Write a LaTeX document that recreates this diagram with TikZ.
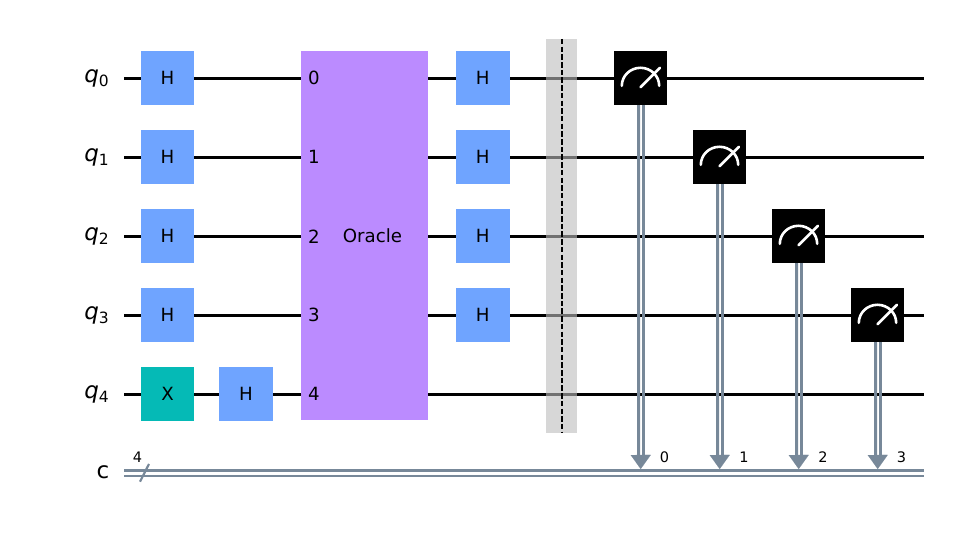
\documentclass[tikz,border=0pt]{standalone}
\usepackage{fontspec}
\setmainfont{DejaVu Sans}
\usetikzlibrary{arrows.meta}
\usetikzlibrary{backgrounds}
\definecolor{hblue}{HTML}{6FA4FF}
\definecolor{xteal}{HTML}{05BAB6}
\definecolor{oraclepurple}{HTML}{BB8BFF}
\definecolor{cgray}{HTML}{778899}
\definecolor{bargray}{HTML}{BDBDBD}
\newcommand{\qname}[1]{\textit{q}\raisebox{-4pt}{\fontsize{15.5}{15.5}\selectfont #1}}
\tikzset{
  gate/.style={shape=rectangle,minimum width=53.4pt,minimum height=54.2pt,inner sep=0pt,outer sep=0pt,font=\fontsize{18.2}{21}\selectfont},
  hgate/.style={gate,fill=hblue},
  xgate/.style={gate,fill=xteal},
  mgate/.style={gate,fill=black},
  qwire/.style={line width=3pt,black},
  cline/.style={line width=2.8pt,cgray},
  creg/.style={line width=2.2pt,cgray},
  carrow/.style={line width=0.01pt,cgray,-{Triangle[length=14pt,width=20pt]}},
  meter/.style={line width=2.6pt,white,line cap=round},
  qlabel/.style={inner sep=0pt,font=\fontsize{23}{26}\selectfont},
  small/.style={inner sep=0pt,font=\fontsize{14.5}{16}\selectfont},
  port/.style={inner sep=0pt,font=\fontsize{18.2}{21}\selectfont}
}
\begin{document}
\begin{tikzpicture}[x=1pt,y=1pt]
\useasboundingbox (0,0) rectangle (956,535);
\draw (96.5,456.7) node (q0) [qlabel] {\qname{0}};
\draw (96.5,377.7) node (q1) [qlabel] {\qname{1}};
\draw (96.5,298.7) node (q2) [qlabel] {\qname{2}};
\draw (96.5,219.7) node (q3) [qlabel] {\qname{3}};
\draw (96.5,140.7) node (q4) [qlabel] {\qname{4}};
\draw (103,63) node (c) [qlabel] {c};
\coordinate (q0in) at (124,456.7);
\coordinate (q1in) at (124,377.7);
\coordinate (q2in) at (124,298.7);
\coordinate (q3in) at (124,219.7);
\coordinate (q4in) at (124,140.7);
\coordinate (q0out) at (924,456.7);
\coordinate (q1out) at (924,377.7);
\coordinate (q2out) at (924,298.7);
\coordinate (q3out) at (924,219.7);
\coordinate (q4out) at (924,140.7);
\coordinate (cin) at (124,61.8);
\coordinate (cout) at (924,61.8);
\draw (167.5,456.7) node (h0) [hgate] {H};
\draw (167.5,377.7) node (h1) [hgate] {H};
\draw (167.5,298.7) node (h2) [hgate] {H};
\draw (167.5,219.7) node (h3) [hgate] {H};
\draw (167.5,140.7) node (x4) [xgate] {X};
\draw (246,140.7) node (h4) [hgate] {H};
\draw (364.5,299.5) node (oracle) [gate,minimum width=127pt,minimum height=369pt,fill=oraclepurple] {\hspace*{16pt}Oracle};
\draw (314,456.7) node (p0) [port] {0};
\draw (314,377.7) node (p1) [port] {1};
\draw (314,298.7) node (p2) [port] {2};
\draw (314,219.7) node (p3) [port] {3};
\draw (314,140.7) node (p4) [port] {4};
\draw (482.8,456.7) node (g0) [hgate] {H};
\draw (482.8,377.7) node (g1) [hgate] {H};
\draw (482.8,298.7) node (g2) [hgate] {H};
\draw (482.8,219.7) node (g3) [hgate] {H};
\draw (561.5,299) node (bar) [shape=rectangle,minimum width=31pt,minimum height=394pt,inner sep=0pt,outer sep=0pt,fill=bargray,fill opacity=0.6] {};
\draw [line width=1.05pt,dash pattern=on 5.5pt off 2.2pt] ([xshift=0.5pt]bar.north) -- ([xshift=0.5pt]bar.south);
\draw (640.5,456.7) node (m0) [mgate] {};
\draw (719.5,377.7) node (m1) [mgate] {};
\draw (798.5,298.7) node (m2) [mgate] {};
\draw (877.5,219.7) node (m3) [mgate] {};
\begin{scope}[on background layer]
\draw [qwire] (q0in) -- (h0.west);
\draw [qwire] (q1in) -- (h1.west);
\draw [qwire] (q2in) -- (h2.west);
\draw [qwire] (q3in) -- (h3.west);
\draw [qwire] (q4in) -- (x4.west);
\draw [qwire] (x4.east) -- (h4.west);
\draw [qwire] (h0.east) -- (h0.east -| oracle.west);
\draw [qwire] (h1.east) -- (h1.east -| oracle.west);
\draw [qwire] (h2.east) -- (h2.east -| oracle.west);
\draw [qwire] (h3.east) -- (h3.east -| oracle.west);
\draw [qwire] (h4.east) -- (h4.east -| oracle.west);
\draw [qwire] (g0.west -| oracle.east) -- (g0.west);
\draw [qwire] (g1.west -| oracle.east) -- (g1.west);
\draw [qwire] (g2.west -| oracle.east) -- (g2.west);
\draw [qwire] (g3.west -| oracle.east) -- (g3.west);
\draw [qwire] (g0.east) -- (m0.west);
\draw [qwire] (g1.east) -- (m1.west);
\draw [qwire] (g2.east) -- (m2.west);
\draw [qwire] (g3.east) -- (m3.west);
\draw [qwire] (m0.east) -- (q0out);
\draw [qwire] (m1.east) -- (q1out);
\draw [qwire] (m2.east) -- (q2out);
\draw [qwire] (m3.east) -- (q3out);
\draw [qwire] (q4out -| oracle.east) -- (q4out);
\end{scope}
\draw [creg] ([yshift=2.7pt]cin) -- ([yshift=2.7pt]cout);
\draw [creg] ([yshift=-2.7pt]cin) -- ([yshift=-2.7pt]cout);
\draw [creg] (140,53.3) -- (149,71);
\draw (137.5,78) node (cn) [small] {4};
\coordinate (t0) at (640.7,66);
\coordinate (t1) at (719.7,66);
\coordinate (t2) at (798.7,66);
\coordinate (t3) at (877.7,66);
\draw [cline] ([xshift=-2.3pt]m0.south) -- ([xshift=-2.5pt,yshift=8pt]t0);
\draw [cline] ([xshift=2.7pt]m0.south) -- ([xshift=2.5pt,yshift=8pt]t0);
\draw [carrow] (m0.south) -- (t0);
\draw [cline] ([xshift=-2.3pt]m1.south) -- ([xshift=-2.5pt,yshift=8pt]t1);
\draw [cline] ([xshift=2.7pt]m1.south) -- ([xshift=2.5pt,yshift=8pt]t1);
\draw [carrow] (m1.south) -- (t1);
\draw [cline] ([xshift=-2.3pt]m2.south) -- ([xshift=-2.5pt,yshift=8pt]t2);
\draw [cline] ([xshift=2.7pt]m2.south) -- ([xshift=2.5pt,yshift=8pt]t2);
\draw [carrow] (m2.south) -- (t2);
\draw [cline] ([xshift=-2.3pt]m3.south) -- ([xshift=-2.5pt,yshift=8pt]t3);
\draw [cline] ([xshift=2.7pt]m3.south) -- ([xshift=2.5pt,yshift=8pt]t3);
\draw [carrow] (m3.south) -- (t3);
\draw (664.5,78) node (c0) [small] {0};
\draw (744,78) node (c1) [small] {1};
\draw (823,78) node (c2) [small] {2};
\draw (901.5,78) node (c3) [small] {3};
\draw [meter] (m0.center) ++(-18.7,-7.5) arc [start angle=180,end angle=0,x radius=18.7,y radius=18];
\draw [meter] (m0.center) ++(0,-9) -- ++(19.5,19.5);
\draw [meter] (m1.center) ++(-18.7,-7.5) arc [start angle=180,end angle=0,x radius=18.7,y radius=18];
\draw [meter] (m1.center) ++(0,-9) -- ++(19.5,19.5);
\draw [meter] (m2.center) ++(-18.7,-7.5) arc [start angle=180,end angle=0,x radius=18.7,y radius=18];
\draw [meter] (m2.center) ++(0,-9) -- ++(19.5,19.5);
\draw [meter] (m3.center) ++(-18.7,-7.5) arc [start angle=180,end angle=0,x radius=18.7,y radius=18];
\draw [meter] (m3.center) ++(0,-9) -- ++(19.5,19.5);
\end{tikzpicture}
\end{document}
